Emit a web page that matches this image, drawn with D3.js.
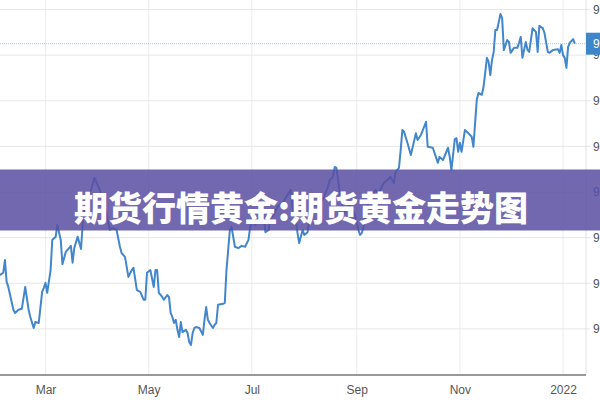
<!DOCTYPE html>
<html>
<head>
<meta charset="utf-8">
<script src="https://cdn.jsdelivr.net/npm/d3@7"></script>
<style>
html,body{margin:0;padding:0;background:#fff;}
svg{display:block;}
</style>
</head>
<body>
<svg id="chart" width="600" height="400"></svg>
<script>
const title = "期货行情黄金:期货黄金走势图";
const xTickDates = ["2021-03-01","2021-05-01","2021-07-01","2021-09-01","2021-11-01","2022-01-01"];
const xTickLabels = ["Mar","May","Jul","Sep","Nov","2022"];
const gridMonths = ["2021-03-01","2021-05-01","2021-07-01","2021-09-01","2021-11-01","2022-01-01"];
const yTicks = [90,91,92,93,94,95,96,97];
const dates = [
"2021-02-02","2021-02-04","2021-02-05","2021-02-06","2021-02-07","2021-02-10","2021-02-11","2021-02-13","2021-02-15","2021-02-17","2021-02-19","2021-02-20","2021-02-22","2021-02-23","2021-02-25","2021-02-27","2021-02-28",
"2021-03-01","2021-03-02","2021-03-04","2021-03-05","2021-03-07","2021-03-08","2021-03-10","2021-03-11","2021-03-13","2021-03-16","2021-03-17","2021-03-18","2021-03-20","2021-03-22","2021-03-23","2021-03-24","2021-03-27","2021-03-30",
"2021-04-02","2021-04-06","2021-04-07","2021-04-08","2021-04-10","2021-04-12","2021-04-14","2021-04-15","2021-04-17","2021-04-19","2021-04-21","2021-04-22","2021-04-24","2021-04-26","2021-04-28","2021-04-29","2021-04-30",
"2021-05-02","2021-05-04","2021-05-05","2021-05-06","2021-05-07","2021-05-09","2021-05-10","2021-05-12","2021-05-13","2021-05-14","2021-05-15","2021-05-16","2021-05-17","2021-05-18","2021-05-19","2021-05-20","2021-05-21","2021-05-23","2021-05-24","2021-05-25","2021-05-26","2021-05-27","2021-05-28","2021-05-29","2021-05-31",
"2021-06-02","2021-06-03","2021-06-04","2021-06-05","2021-06-06","2021-06-08","2021-06-09","2021-06-10","2021-06-11","2021-06-14","2021-06-15","2021-06-16","2021-06-18","2021-06-19","2021-06-21","2021-06-23","2021-06-25","2021-06-27","2021-06-29","2021-06-30",
"2021-07-02","2021-07-03","2021-07-05","2021-07-07","2021-07-08","2021-07-09","2021-07-11","2021-07-12","2021-07-14","2021-07-16","2021-07-19","2021-07-21","2021-07-24","2021-07-25","2021-07-27","2021-07-28","2021-07-29","2021-07-31",
"2021-08-01","2021-08-03","2021-08-04","2021-08-05","2021-08-06","2021-08-09","2021-08-10","2021-08-12","2021-08-15","2021-08-16","2021-08-18","2021-08-19","2021-08-20","2021-08-21","2021-08-22","2021-08-24","2021-08-25","2021-08-28","2021-08-31",
"2021-09-02","2021-09-03","2021-09-04","2021-09-05","2021-09-07","2021-09-08","2021-09-10","2021-09-12","2021-09-14","2021-09-17","2021-09-19","2021-09-21","2021-09-23","2021-09-24","2021-09-26","2021-09-27","2021-09-28","2021-09-29",
"2021-10-01","2021-10-03","2021-10-06","2021-10-07","2021-10-09","2021-10-12","2021-10-13","2021-10-16","2021-10-19","2021-10-20","2021-10-22","2021-10-25","2021-10-26","2021-10-27","2021-10-29","2021-10-30","2021-10-31",
"2021-11-01","2021-11-02","2021-11-04","2021-11-06","2021-11-08","2021-11-09","2021-11-11","2021-11-12","2021-11-14","2021-11-15","2021-11-17","2021-11-18","2021-11-19","2021-11-20","2021-11-21","2021-11-22","2021-11-23","2021-11-25","2021-11-26","2021-11-27","2021-11-29","2021-11-30",
"2021-12-01","2021-12-03","2021-12-05","2021-12-06","2021-12-07","2021-12-08","2021-12-10","2021-12-11","2021-12-12","2021-12-14","2021-12-16","2021-12-17","2021-12-18","2021-12-20","2021-12-21","2021-12-23","2021-12-24","2021-12-26","2021-12-29","2021-12-30","2021-12-31",
"2022-01-01","2022-01-02","2022-01-03","2022-01-04","2022-01-05","2022-01-07","2022-01-08"
];
const values = [
91.18,91.23,91.51,91.03,90.92,90.42,90.35,90.42,90.44,90.92,90.42,90.26,90.02,90.15,90.13,90.81,90.90,
91.01,90.79,91.29,91.95,92.02,92.28,91.95,91.42,91.69,91.82,91.45,91.77,92.02,91.75,92.32,92.61,92.94,93.31,
93.05,92.54,92.34,92.17,92.21,92.17,91.80,91.66,91.58,91.14,91.29,91.34,90.85,90.81,90.64,90.64,91.23,
91.29,90.92,91.29,91.29,90.79,90.70,90.64,90.74,90.70,90.35,90.26,90.13,90.20,89.98,89.82,90.15,89.93,89.98,89.91,89.71,89.65,89.91,90.02,90.04,90.02,
89.87,90.20,90.48,90.20,90.13,90.02,90.09,90.13,90.53,90.55,90.57,91.29,92.17,92.23,91.80,91.77,91.82,91.80,91.95,92.23,
92.54,92.28,92.43,92.39,92.50,92.12,92.17,92.43,92.50,92.67,92.76,92.87,93.05,92.67,92.39,92.10,91.88,92.17,
92.06,92.12,92.39,92.45,92.67,92.76,92.83,92.83,93.11,93.26,93.33,93.55,93.53,93.26,92.98,92.67,92.54,92.72,92.50,
92.17,92.06,92.10,92.23,92.61,92.83,92.89,93.05,92.98,93.20,93.26,93.33,93.20,93.44,93.53,93.92,94.36,94.32,
94.08,93.81,94.29,94.14,94.25,94.54,93.99,93.97,93.64,93.77,93.70,93.97,93.77,93.48,94.16,94.18,93.88,
94.08,93.88,94.36,94.29,94.21,93.99,95.02,95.17,95.13,95.30,95.94,95.85,95.56,95.89,96.07,96.55,96.55,96.90,96.81,96.11,96.33,96.29,
96.05,96.16,96.16,96.27,96.40,95.94,96.29,96.11,96.07,96.59,96.51,96.07,96.64,96.59,96.49,96.07,96.05,96.11,96.13,96.05,96.22,
96.00,95.94,95.72,96.18,96.27,96.35,96.25
];

const W = 600, H = 400;
const plotRight = 586, plotBottom = 375;
const parse = d3.timeParse("%Y-%m-%d");
const data = dates.map((d,i)=>({date:parse(d), value:values[i]}));

const x = d3.scaleTime()
  .domain([new Date(2021,1,2,2), new Date(2022,0,14,14)])
  .range([0, plotRight]);
const y = d3.scaleLinear().domain([88.99, 97.208]).range([plotBottom, 0]);

const svg = d3.select("#chart");
svg.append("rect").attr("width",W).attr("height",H).attr("fill","#fff");

// vertical grid
svg.append("g").selectAll("line").data(gridMonths.map(parse)).join("line")
  .attr("x1",d=>x(d)).attr("x2",d=>x(d)).attr("y1",0).attr("y2",plotBottom)
  .attr("stroke","#ececec").attr("stroke-width",1);

// horizontal grid
svg.append("g").selectAll("line").data(yTicks).join("line")
  .attr("x1",0).attr("x2",plotRight+4).attr("y1",d=>y(d)).attr("y2",d=>y(d))
  .attr("stroke","#e6e6e6").attr("stroke-width",1);

// right border line
svg.append("line").attr("x1",plotRight).attr("x2",plotRight).attr("y1",0).attr("y2",plotBottom)
  .attr("stroke","#e2e2e2").attr("stroke-width",1);

// right axis labels (cut off by the frame, as in the original)
const yAxis = d3.axisRight(y).tickValues(yTicks).tickFormat(d3.format(".2f")).tickSize(0).tickPadding(7);
const gy = svg.append("g").attr("transform",`translate(${plotRight},0)`).call(yAxis);
gy.select(".domain").remove();
gy.selectAll("text").attr("font-family","Liberation Sans, Arial, sans-serif").attr("font-size",12).attr("fill","#555");

// current value dotted line
const last = data[data.length-1];
svg.append("line").attr("x1",0).attr("x2",plotRight).attr("y1",y(last.value)).attr("y2",y(last.value))
  .attr("stroke","#a9c7df").attr("stroke-width",1).attr("stroke-dasharray","1,1");

// price line
const line = d3.line().x(d=>x(d.date)).y(d=>y(d.value));
svg.append("path").datum(data).attr("d",line)
  .attr("fill","none").attr("stroke","#4286cc").attr("stroke-width",2).attr("stroke-linejoin","round");

// current value box
svg.append("rect").attr("x",plotRight).attr("y",y(last.value)-11).attr("width",20).attr("height",22)
  .attr("fill","#3d86c9");
svg.append("text").attr("x",plotRight+7).attr("y",y(last.value)+4)
  .attr("font-family","Liberation Sans, Arial, sans-serif").attr("font-size",12).attr("fill","#fff")
  .text(d3.format(".2f")(last.value));

// bottom axis
const xAxis = d3.axisBottom(x).tickValues(xTickDates.map(parse))
  .tickFormat((d,i)=>xTickLabels[i]).tickSize(0).tickPadding(10);
const gx = svg.append("g").attr("transform",`translate(0,${plotBottom})`).call(xAxis);
gx.select(".domain").remove();
gx.selectAll("text").attr("font-family","Liberation Sans, Arial, sans-serif").attr("font-size",12).attr("fill","#555");
svg.append("line").attr("x1",0).attr("x2",plotRight).attr("y1",plotBottom).attr("y2",plotBottom)
  .attr("stroke","#777").attr("stroke-width",1.5);

// banner overlay
svg.append("rect").attr("x",0).attr("y",169.5).attr("width",W).attr("height",61)
  .attr("fill","#5a4fa3").attr("fill-opacity",0.86);
svg.append("text").attr("x",W/2+1).attr("y",206).attr("text-anchor","middle").attr("dominant-baseline","central")
  .attr("font-family","Noto Sans CJK SC, sans-serif").attr("font-weight",900).attr("font-size",34)
  .attr("fill","#fff").text(title);
</script>
</body>
</html>
